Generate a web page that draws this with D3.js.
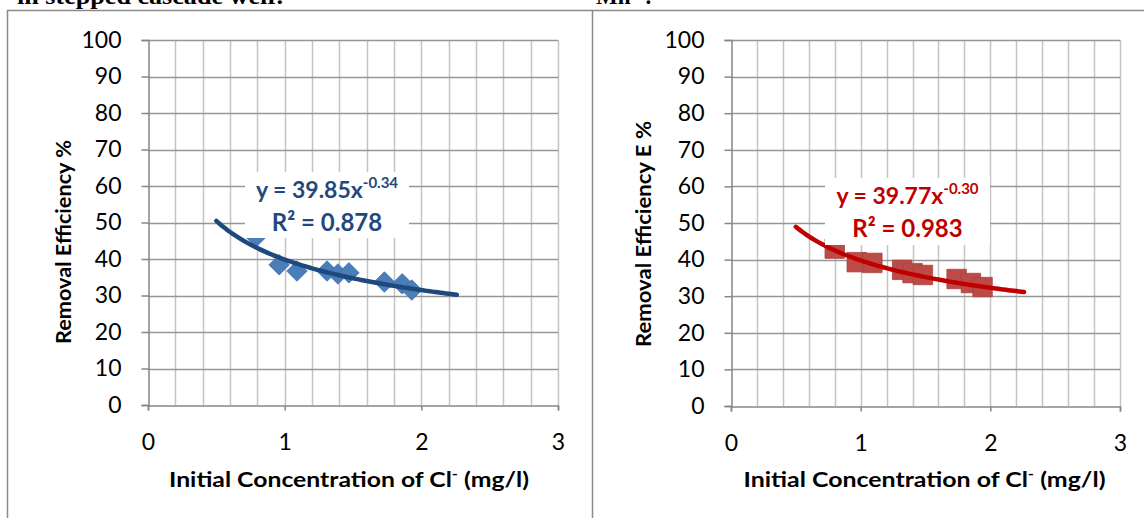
<!DOCTYPE html>
<html>
<head>
<meta charset="utf-8">
<script src="https://cdn.jsdelivr.net/npm/d3@7/dist/d3.min.js"></script>
<style>
  body { margin: 0; background: #fff; }
  svg text { font-family: Lato, "Open Sans", sans-serif; }
</style>
</head>
<body>
<svg id="chart" width="1144" height="518"></svg>
<script>
// axis ticks
const xTicks = [0, 1, 2, 3];
const yTicks = [0, 10, 20, 30, 40, 50, 60, 70, 80, 90, 100];

// Cl- removal, stepped cascade weir (left panel)
const clConc = [0.79, 0.96, 1.09, 1.31, 1.39, 1.47, 1.73, 1.86, 1.93];
const clEff  = [46.0, 38.4, 36.7, 36.7, 35.9, 36.2, 33.7, 33.2, 31.5];
const clFit  = {a: 39.85, b: -0.34, r2: '0.878'};

// second panel
const mnConc = [0.80, 0.97, 1.09, 1.32, 1.40, 1.48, 1.74, 1.85, 1.94];
const mnEff  = [43.0, 39.3, 39.1, 37.2, 36.3, 35.8, 34.7, 33.6, 32.5];
const mnFit  = {a: 39.77, b: -0.30, r2: '0.983'};

const svg = d3.select('#chart');

// page frame (table cells of the source document)
const frame = svg.append('g').attr('stroke', '#8a8a8a').attr('stroke-width', 1.5);
frame.append('line').attr('x1', 7).attr('x2', 1144).attr('y1', 10.5).attr('y2', 10.5);
frame.append('line').attr('x1', 7.5).attr('x2', 7.5).attr('y1', 10).attr('y2', 518);
frame.append('line').attr('x1', 592.5).attr('x2', 592.5).attr('y1', 10).attr('y2', 518);

// caption text above the frame, cut by the page edge as in the source
svg.append('text').attr('x', 17).attr('y', 4)
  .attr('textLength', 266).attr('lengthAdjust', 'spacingAndGlyphs')
  .style('font-family', '"Liberation Serif", serif').style('font-weight', 'bold').style('font-size', '23px')
  .text('in stepped cascade weir.');
svg.append('text').attr('x', 596).attr('y', 4)
  .style('font-family', '"Liberation Serif", serif').style('font-weight', 'bold').style('font-size', '23px')
  .text('Mn²⁺.');

function drawPanel(opt) {
  const g = svg.append('g');
  const x = d3.scaleLinear().domain([0, 3]).range([opt.left, opt.right]);
  const y = d3.scaleLinear().domain([0, 100]).range([opt.bottom, opt.top]);

  // minor vertical gridlines every 0.2
  g.append('g').selectAll('line')
    .data(d3.range(1, 16).map(i => i * 0.2))
    .enter().append('line')
    .attr('x1', d => Math.round(x(d)) + 0.5).attr('x2', d => Math.round(x(d)) + 0.5)
    .attr('y1', y(0)).attr('y2', y(100))
    .attr('stroke', '#c4c4c4').attr('stroke-width', 1.5);

  // horizontal gridlines
  g.append('g').selectAll('line')
    .data(yTicks.slice(1))
    .enter().append('line')
    .attr('x1', x(0)).attr('x2', x(3))
    .attr('y1', d => Math.round(y(d)) + 0.5).attr('y2', d => Math.round(y(d)) + 0.5)
    .attr('stroke', '#969696').attr('stroke-width', 1.5);

  // axes
  const yAxis = d3.axisLeft(y).tickValues(yTicks).tickSize(7).tickPadding(20);
  const xAxis = d3.axisBottom(x).tickValues(xTicks).tickFormat(d3.format('d')).tickSize(5).tickPadding(23);

  const gy = g.append('g').attr('transform', `translate(${Math.round(x(0)) + 0.5},0)`).call(yAxis);
  const gx = g.append('g').attr('transform', `translate(0,${Math.round(y(0)) + 0.5})`).call(xAxis);
  [gx, gy].forEach(a => {
    a.select('.domain').attr('stroke', '#868686').attr('stroke-width', 1.5);
    a.selectAll('.tick line').attr('stroke', '#868686').attr('stroke-width', 1.5);
    a.selectAll('.tick text').attr('fill', '#000').style('font-size', '23px').style('font-family', 'Lato, sans-serif');
  });

  // markers
  const pts = opt.conc.map((c, i) => ({c: c, e: opt.eff[i]}));
  g.append('g').selectAll('path')
    .data(pts)
    .enter().append('path')
    .attr('transform', d => `translate(${x(d.c)},${y(d.e)}) rotate(${opt.rotate})`)
    .attr('d', d3.symbol().type(d3.symbolSquare).size(opt.markerSize))
    .attr('fill', opt.markerFill)
    .attr('stroke', opt.markerStroke).attr('stroke-width', 0.75);

  // power trendline y = a x^b
  const curve = d3.range(0.5, 2.2601, 0.02).map(c => [c, opt.fit.a * Math.pow(c, opt.fit.b)]);
  g.append('path')
    .datum(curve)
    .attr('d', d3.line().x(d => x(d[0])).y(d => y(d[1])))
    .attr('fill', 'none')
    .attr('stroke', opt.lineColor).attr('stroke-width', 4.5)
    .attr('stroke-linecap', 'round');

  // equation label
  const lb = opt.label;
  g.append('rect').attr('x', lb.x).attr('y', lb.y).attr('width', lb.w).attr('height', lb.h).attr('fill', '#fff');
  const eq = g.append('text')
    .attr('x', lb.x + lb.w / 2).attr('y', lb.y + 26)
    .attr('text-anchor', 'middle')
    .attr('fill', opt.lineColor)
    .style('font-weight', 'bold').style('font-size', '23px');
  eq.append('tspan').text(`y = ${opt.fit.a}x`);
  eq.append('tspan').attr('dy', -10).style('font-size', '15px').text(`${opt.fit.b.toFixed(2)}`);
  g.append('text')
    .attr('x', lb.x + lb.w / 2).attr('y', lb.y + 59)
    .attr('text-anchor', 'middle')
    .attr('fill', opt.lineColor)
    .style('font-weight', 'bold').style('font-size', '24px')
    .text(`R² = ${opt.fit.r2}`);

  // axis titles
  const xt = g.append('text')
    .attr('x', (x(0) + x(3)) / 2 + opt.xTitleShift).attr('y', 487)
    .attr('text-anchor', 'middle')
    .attr('textLength', opt.xTitleLen).attr('lengthAdjust', 'spacingAndGlyphs')
    .style('font-weight', 'bold').style('font-size', '21px');
  xt.append('tspan').text('Initial Concentration of Cl');
  xt.append('tspan').attr('dy', -8).style('font-size', '14px').text('-');
  xt.append('tspan').attr('dy', 8).text(' (mg/l)');

  g.append('text')
    .attr('transform', `translate(${opt.yTitleX},${opt.yTitleY}) rotate(-90)`)
    .attr('text-anchor', 'middle')
    .attr('textLength', opt.yTitleLen).attr('lengthAdjust', 'spacingAndGlyphs')
    .style('font-weight', 'bold').style('font-size', '21px')
    .text(opt.yTitle);
}

drawPanel({
  left: 148, right: 558, top: 40, bottom: 405,
  conc: clConc, eff: clEff, fit: clFit,
  rotate: 45, markerSize: 210, markerFill: '#4a7ebb', markerStroke: '#3d6da8',
  lineColor: '#1f497d',
  label: {x: 245, y: 172, w: 164, h: 66},
  xTitleShift: -4, xTitleLen: 360,
  yTitleX: 71, yTitleY: 242, yTitleLen: 204,
  yTitle: 'Removal Efficiency %'
});

drawPanel({
  left: 731, right: 1120, top: 40, bottom: 406,
  conc: mnConc, eff: mnEff, fit: mnFit,
  rotate: 0, markerSize: 380, markerFill: '#bc4a47', markerStroke: '#a8403d',
  lineColor: '#c00000',
  label: {x: 825, y: 178, w: 165, h: 67},
  xTitleShift: -1, xTitleLen: 362,
  yTitleX: 651, yTitleY: 234, yTitleLen: 226,
  yTitle: 'Removal Efficiency E %'
});
</script>
</body>
</html>
